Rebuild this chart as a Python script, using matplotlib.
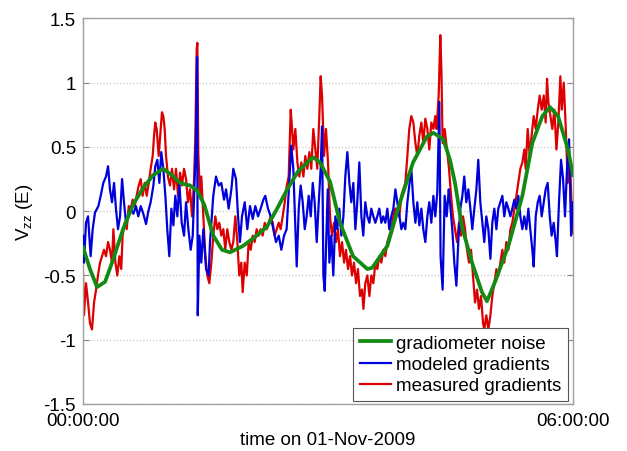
import matplotlib
matplotlib.use("Agg")
import matplotlib.pyplot as plt

plt.rcParams['font.family'] = ['Liberation Sans', 'DejaVu Sans']
plt.rcParams['mathtext.fontset'] = 'custom'
plt.rcParams['mathtext.rm'] = 'Liberation Sans'
plt.rcParams['mathtext.it'] = 'Liberation Sans:italic'

# Data (time in minutes after 00:00:00, values in E)
green_t = [0, 5.1, 10.3, 16.2, 22.0, 29.4, 36.7, 44.1, 51.4, 58.8, 65.4, 71.3,
           78.6, 84.0, 89.1, 95.7, 102.1, 108.0, 117.6, 126.4, 135.2, 142.6,
           150.0, 158.0, 166.8, 169.0, 174.1, 181.5, 188.8, 198.4, 208.9, 212.5,
           223.6, 232.9, 242.5, 252.6, 257.4, 264.7, 269.6, 273.3, 278.4, 285.8,
           293.1, 296.8, 302.7, 312.5, 322.8, 330.1, 337.5, 343.1, 349.0, 356.3,
           360.0]
green_v = [-0.28, -0.45, -0.59, -0.55, -0.38, -0.14, 0.05, 0.18, 0.28, 0.33, 0.28,
           0.22, 0.20, 0.16, 0.05, -0.19, -0.30, -0.32, -0.27, -0.20, -0.12, 0.02,
           0.17, 0.31, 0.40, 0.42, 0.38, 0.23, -0.09, -0.35, -0.45, -0.44, -0.27,
           0.07, 0.38, 0.58, 0.61, 0.56, 0.40, 0.22, -0.12, -0.40, -0.63, -0.70,
           -0.55, -0.27, 0.12, 0.53, 0.74, 0.81, 0.74, 0.48, 0.28]

blue_t = [0, 0.7, 2.2, 3.7, 5.6, 7.1, 8.8, 11.3, 13.0, 14.9, 16.9, 18.4, 19.8,
          21.3, 22.8, 24.2, 25.7, 27.2, 28.7, 30.1, 31.6, 33.3, 35.0, 37.0, 38.9,
          40.6, 42.4, 44.3, 46.3, 48.0, 49.7, 51.7, 53.1, 54.6, 56.1, 57.5, 59.0,
          60.5, 61.9, 63.4, 64.9, 66.4, 67.8, 69.3, 70.8, 72.5, 74.2, 75.7, 77.4,
          79.1, 80.6, 81.8, 82.8, 83.8, 84.3, 85.5, 86.9, 88.4, 90.4, 92.3, 93.3,
          95.7, 97.7, 99.7, 101.6, 103.6, 105.1, 107.0, 109.0, 110.4, 112.4, 113.9,
          115.3, 116.8, 118.8, 120.7, 122.7, 124.7, 126.6, 128.6, 130.5, 132.5,
          133.9, 135.9, 137.9, 139.8, 141.8, 143.8, 145.7, 147.7, 149.6, 151.6,
          153.0, 154.5, 156.0, 157.0, 158.5, 159.9, 161.4, 162.9, 164.3, 165.8,
          167.3, 168.8, 170.2, 171.7, 173.2, 174.6, 175.6, 176.6, 177.6, 179.0,
          179.8, 181.0, 182.4, 183.9, 185.4, 186.8, 188.3, 189.8, 191.3, 192.7,
          194.2, 195.7, 197.1, 198.6, 200.1, 201.5, 203.0, 204.5, 205.9, 207.4,
          208.9, 210.4, 211.8, 213.3, 214.8, 216.2, 217.7, 219.2, 220.6, 222.1,
          223.6, 225.0, 226.5, 228.0, 229.5, 230.9, 232.4, 233.9, 235.3, 236.8,
          238.3, 239.7, 241.2, 242.7, 244.2, 245.6, 247.1, 248.6, 250.0, 251.5,
          253.0, 254.4, 255.9, 257.4, 258.8, 260.3, 261.8, 262.7, 264.2, 265.7,
          267.2, 268.7, 269.6, 271.3, 272.8, 274.3, 275.7, 277.2, 278.7, 280.1,
          281.6, 283.1, 284.6, 286.0, 287.5, 289.0, 290.4, 291.9, 293.4, 294.8,
          296.3, 297.8, 299.3, 300.7, 302.2, 303.7, 305.1, 306.6, 308.1, 309.5,
          311.0, 312.5, 314.0, 315.4, 316.9, 318.4, 319.8, 321.3, 322.8, 324.2,
          325.7, 327.2, 328.6, 330.1, 331.1, 332.6, 334.1, 335.5, 337.0, 338.5,
          339.9, 341.4, 342.9, 344.3, 345.8, 347.3, 348.2, 349.7, 351.2, 352.7,
          354.1, 355.6, 357.1, 358.6, 360.0]
blue_v = [-0.19, -0.40, -0.09, -0.04, -0.35, -0.14, -0.01, 0.04, 0.12, 0.22, 0.27,
          0.35, 0.17, 0.07, 0.22, 0.02, -0.14, -0.04, 0.25, 0.07, -0.09, -0.04,
          0.02, -0.02, 0.04, -0.04, 0.04, -0.02, -0.10, 0.00, 0.07, 0.20, 0.35,
          0.40, 0.22, 0.46, 0.33, 0.12, -0.14, -0.35, 0.02, -0.11, 0.12, -0.04,
          0.22, -0.09, -0.19, 0.07, -0.14, -0.30, -0.19, 0.17, 0.48, 1.20, -0.81,
          -0.19, -0.40, -0.14, -0.45, -0.50, -0.24, 0.12, 0.27, 0.20, 0.22, 0.09,
          0.17, 0.02, 0.17, 0.33, 0.25, -0.04, -0.24, -0.04, 0.07, -0.14, 0.04,
          -0.06, 0.04, -0.04, 0.02, 0.09, 0.12, 0.02, -0.04, -0.14, -0.24, -0.19,
          -0.30, -0.19, -0.14, 0.25, 0.51, 0.33, -0.14, -0.43, 0.02, 0.20, 0.07,
          -0.14, -0.04, 0.12, -0.04, 0.22, 0.07, -0.24, 0.07, 0.33, 0.66, -0.50,
          -0.62, -0.10, 0.17, -0.40, -0.19, -0.50, -0.04, -0.14, 0.02, -0.19,
          -0.04, 0.27, 0.46, 0.22, 0.07, 0.22, -0.14, 0.07, 0.38, -0.04, -0.19,
          0.07, -0.04, -0.09, 0.02, -0.04, -0.09, -0.04, 0.02, -0.09, -0.04,
          -0.09, 0.02, -0.14, -0.04, 0.02, 0.17, 0.07, -0.04, -0.14, -0.09,
          -0.14, 0.07, 0.20, 0.33, 0.07, -0.09, 0.07, -0.11, 0.02, -0.14, -0.24,
          -0.04, 0.07, -0.09, 0.12, -0.04, 0.15, 0.85, -0.35, -0.61, 0.12, -0.04,
          0.17, 0.07, -0.14, -0.40, -0.58, -0.24, 0.02, 0.12, 0.27, 0.07, 0.17,
          0.02, -0.14, 0.02, 0.17, 0.40, 0.07, -0.09, -0.24, -0.04, -0.14, -0.37,
          -0.09, 0.02, -0.14, 0.02, 0.07, 0.12, -0.04, 0.07, 0.02, -0.04, 0.02,
          0.09, 0.02, 0.12, -0.04, -0.14, -0.04, -0.14, 0.02, -0.14, -0.30, -0.43,
          -0.04, 0.07, 0.12, -0.04, 0.07, 0.17, 0.22, -0.04, -0.19, -0.09, -0.24,
          -0.35, 0.07, 0.40, 0.25, -0.04, 0.33, 0.56, -0.19, 0.07]

red_t = [0, 0.7, 2.2, 3.7, 5.1, 6.6, 8.1, 9.6, 11.0, 12.5, 14.0, 15.4, 16.9, 18.4,
         19.8, 21.3, 22.3, 23.8, 25.2, 26.7, 28.1, 29.1, 30.6, 32.1, 33.6, 35.0,
         36.5, 38.0, 39.4, 40.9, 42.4, 43.8, 45.3, 46.8, 48.3, 49.7, 51.2, 52.2,
         53.1, 54.1, 55.6, 57.1, 58.0, 59.0, 60.0, 61.0, 62.4, 63.9, 65.4, 66.9,
         68.3, 69.8, 71.3, 72.7, 74.2, 75.7, 77.1, 78.6, 80.1, 81.6, 82.5, 83.5,
         84.0, 84.7, 86.0, 86.9, 88.4, 89.9, 91.3, 92.8, 94.3, 95.7, 97.2, 98.7,
         100.1, 101.6, 103.1, 104.5, 106.0, 107.5, 109.0, 110.4, 111.9, 113.4,
         114.8, 116.3, 117.3, 118.8, 120.3, 121.7, 123.2, 124.7, 126.1, 127.6,
         129.1, 130.5, 132.0, 133.5, 135.0, 136.4, 137.9, 139.4, 140.8, 142.3,
         143.8, 145.2, 146.7, 148.2, 149.7, 151.1, 152.6, 153.6, 154.5, 156.0,
         157.5, 158.9, 160.4, 161.9, 163.3, 164.8, 166.3, 167.7, 169.2, 170.7,
         172.1, 173.6, 174.6, 175.6, 177.1, 178.5, 180.0, 181.5, 182.9, 184.4,
         185.9, 187.3, 188.8, 190.3, 191.8, 193.2, 194.7, 196.2, 197.6, 199.1,
         200.6, 202.0, 203.5, 205.0, 206.0, 207.4, 208.9, 210.4, 211.8, 213.3,
         214.8, 216.2, 217.7, 219.2, 220.6, 222.1, 223.6, 225.0, 226.5, 228.0,
         229.5, 230.9, 232.4, 233.9, 235.3, 236.8, 238.3, 239.7, 241.2, 242.7,
         244.2, 245.6, 247.1, 248.6, 250.0, 251.5, 253.0, 254.4, 255.9, 257.4,
         258.8, 259.8, 261.3, 262.5, 263.3, 264.2, 265.7, 267.4, 268.9, 270.4,
         271.8, 273.3, 274.8, 276.2, 277.7, 279.2, 280.7, 282.1, 283.6, 285.1,
         286.5, 288.0, 289.5, 290.9, 292.4, 293.9, 294.8, 296.3, 297.8, 299.3,
         300.7, 302.2, 303.7, 305.1, 306.6, 308.1, 309.5, 311.0, 312.5, 314.0,
         315.4, 316.9, 318.4, 319.8, 321.3, 322.8, 324.2, 325.2, 326.7, 328.2,
         329.6, 331.1, 332.6, 334.1, 335.5, 337.0, 338.5, 339.9, 340.9, 341.9,
         343.4, 344.8, 346.3, 347.8, 349.2, 350.7, 351.7, 353.2, 354.7, 356.1,
         357.6, 359.1, 360.0]
red_v = [-0.48, -0.81, -0.56, -0.71, -0.87, -0.92, -0.71, -0.61, -0.50, -0.40,
         -0.35, -0.30, -0.35, -0.24, -0.30, -0.40, -0.14, -0.40, -0.50, -0.35,
         -0.45, -0.19, -0.09, -0.14, 0.04, 0.02, 0.09, 0.04, 0.12, 0.20, 0.25,
         0.12, 0.22, 0.12, 0.22, 0.33, 0.43, 0.59, 0.69, 0.64, 0.43, 0.64, 0.77,
         0.74, 0.64, 0.43, 0.27, 0.20, 0.33, 0.17, 0.33, 0.12, 0.30, 0.20, 0.33,
         0.25, 0.07, 0.17, -0.04, 0.25, 0.56, 1.26, 1.31, 0.45, 0.10, 0.27,
         -0.04, -0.35, -0.50, -0.56, -0.40, -0.19, -0.04, -0.14, -0.09, -0.19,
         -0.14, -0.30, -0.14, -0.24, -0.30, -0.24, -0.04, -0.24, -0.50, -0.40,
         -0.63, -0.40, -0.50, -0.24, -0.30, -0.19, -0.24, -0.14, -0.19, -0.14,
         -0.19, -0.09, -0.14, -0.09, -0.04, -0.09, -0.19, -0.14, -0.09, -0.14,
         -0.04, 0.07, 0.20, 0.27, 0.79, 0.64, 0.48, 0.64, 0.38, 0.27, 0.38, 0.27,
         0.43, 0.33, 0.46, 0.33, 0.64, 0.48, 0.33, 0.74, 1.05, 0.90, 0.43, 0.64,
         0.38, -0.04, -0.19, -0.09, -0.24, -0.14, -0.35, -0.24, -0.40, -0.30,
         -0.45, -0.35, -0.50, -0.40, -0.56, -0.45, -0.66, -0.61, -0.76, -0.56,
         -0.50, -0.66, -0.50, -0.56, -0.40, -0.45, -0.35, -0.40, -0.30, -0.35,
         -0.24, -0.19, -0.14, -0.04, 0.02, 0.02, -0.04, 0.12, 0.17, 0.22, 0.43,
         0.64, 0.74, 0.69, 0.53, 0.43, 0.59, 0.69, 0.53, 0.72, 0.64, 0.48, 0.69,
         0.64, 0.74, 0.64, 0.90, 1.37, 1.10, 0.53, 0.64, 0.48, 0.33, 0.12, -0.04,
         -0.14, -0.24, -0.09, -0.19, -0.04, -0.14, -0.30, -0.40, -0.30, -0.50,
         -0.71, -0.61, -0.76, -0.66, -0.87, -0.92, -0.81, -0.92, -0.81, -0.66,
         -0.56, -0.45, -0.50, -0.40, -0.30, -0.40, -0.24, -0.30, -0.14, -0.09,
         0.02, 0.12, 0.22, 0.33, 0.38, 0.48, 0.33, 0.64, 0.43, 0.59, 0.74, 0.64,
         0.79, 0.90, 0.79, 0.90, 0.69, 1.03, 0.85, 0.74, 0.64, 0.79, 0.48, 0.69,
         1.05, 0.79, 1.00, 0.64, 0.22, 0.43, 0.02, -0.17]

x_ticks = [0, 360]
x_ticklabels = ['00:00:00', '06:00:00']
y_ticks = [-1.5, -1, -0.5, 0, 0.5, 1, 1.5]
y_ticklabels = ['-1.5', '-1', '-0.5', '0', '0.5', '1', '1.5']

fig = plt.figure(figsize=(6.27, 4.52), dpi=100)
ax = fig.add_axes([0.1324, 0.104, 0.7815, 0.853])

l_red, = ax.plot(red_t, red_v, color='#dd0000', lw=1.6, zorder=2)
l_blue, = ax.plot(blue_t, blue_v, color='#0000dd', lw=1.6, zorder=3)
l_green, = ax.plot(green_t, green_v, color='#138a13', lw=2.7, zorder=4)

ax.set_xlim(0, 360)
ax.set_ylim(-1.5, 1.5)
ax.set_xticks(x_ticks)
ax.set_xticklabels(x_ticklabels)
ax.set_yticks(y_ticks)
ax.set_yticklabels(y_ticklabels)
ax.tick_params(direction='in', length=4, width=0.8, color='#888888',
               labelsize=13.5, right=True, top=True, pad=5)
ax.tick_params(axis='x', pad=6)
ax.yaxis.grid(True, linestyle=':', color='#c8c8c8', lw=0.9)
for s in ax.spines.values():
    s.set_color('#a0a0a0')
    s.set_linewidth(1.0)

ax.set_ylabel(r'V$_{\mathrm{zz}}$ (E)', fontsize=13.5)
ax.yaxis.set_label_coords(-0.097, 0.5)
ax.set_xlabel('time on 01-Nov-2009', fontsize=13.5)
ax.xaxis.set_label_coords(0.5, -0.07)

leg = ax.legend([l_green, l_blue, l_red],
                ['gradiometer noise', 'modeled gradients', 'measured gradients'],
                loc='lower right', bbox_to_anchor=(0.99, 0.008), borderaxespad=0,
                fontsize=13.5, fancybox=False, framealpha=1, edgecolor='#555555',
                labelspacing=0.22, borderpad=0.35, handlelength=1.65,
                handletextpad=0.3)
leg.get_frame().set_linewidth(0.8)
leg.set_zorder(10)

fig.savefig('out.png', dpi=100)
